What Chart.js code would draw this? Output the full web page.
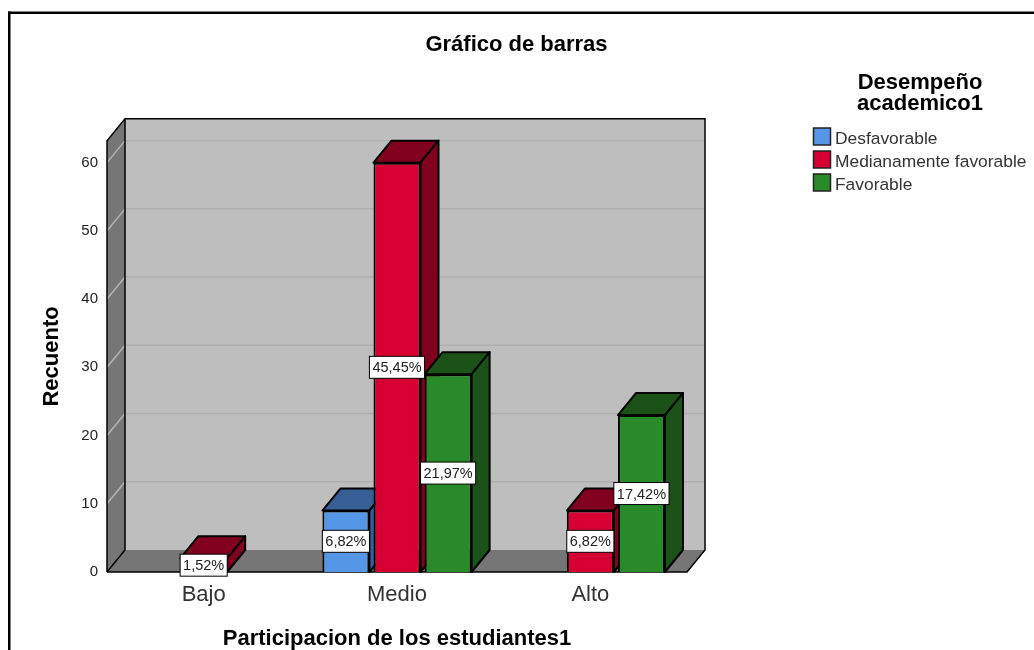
<!DOCTYPE html>
<html>
<head>
<meta charset="utf-8">
<style>
  html, body { margin: 0; padding: 0; background: #fff; }
  #wrap { width: 1034px; height: 650px; position: relative; overflow: hidden; }
</style>
<script src="https://cdn.jsdelivr.net/npm/chart.js@4"></script>
</head>
<body>
<div id="wrap"><canvas id="barChart" width="1034" height="650"></canvas></div>
<script>
const categories = ['Bajo', 'Medio', 'Alto'];
const seriesNames = ['Desfavorable', 'Medianamente favorable', 'Favorable'];
const desfavorable = [null, 9, null];
const medianamente = [2, 60, 9];
const favorable = [null, 29, 23];
const desfavorablePct = [null, '6,82%', null];
const medianamentePct = ['1,52%', '45,45%', '6,82%'];
const favorablePct = [null, '21,97%', '17,42%'];
const yTicks = [0, 10, 20, 30, 40, 50, 60];

const frontColors = ['#5596E6', '#D70032', '#288A28'];
const sideColors = ['#375F96', '#80001E', '#1A5218'];
const pctLabels = [desfavorablePct, medianamentePct, favorablePct];
const depthX = 18, depthY = 22;

function poly(ctx, pts, fill, stroke) {
  ctx.beginPath();
  pts.forEach((p, i) => i ? ctx.lineTo(p[0], p[1]) : ctx.moveTo(p[0], p[1]));
  ctx.closePath();
  if (fill) { ctx.fillStyle = fill; ctx.fill(); }
  if (stroke) { ctx.strokeStyle = stroke; ctx.lineWidth = 2; ctx.lineJoin = 'round'; ctx.stroke(); }
}

// walls, floor and the sides of the bars
const box3d = {
  id: 'box3d',
  afterLayout(chart) {
    // title is centred on the whole picture, not only the plot
    chart.titleBlock.left = 0;
    chart.titleBlock.right = 1033;
  },
  beforeDatasetsDraw(chart) {
    const ctx = chart.ctx, a = chart.chartArea, y = chart.scales.y;
    const l = a.left, r = a.right, t = a.top, b = a.bottom;
    ctx.save();
    poly(ctx, [[l + depthX, t - depthY], [r + depthX, t - depthY], [r + depthX, b - depthY], [l + depthX, b - depthY]], '#BEBEBE');
    poly(ctx, [[l, t], [l + depthX, t - depthY], [l + depthX, b - depthY], [l, b]], '#767676');
    poly(ctx, [[l, b], [l + depthX, b - depthY], [r + depthX, b - depthY], [r, b]], '#767676');

    yTicks.forEach(v => {
      if (v === 0) return;
      const py = y.getPixelForValue(v);
      ctx.strokeStyle = '#AEAEAE';
      ctx.lineWidth = 1.5;
      ctx.beginPath();
      ctx.moveTo(l + depthX, py - depthY);
      ctx.lineTo(r + depthX, py - depthY);
      ctx.stroke();
      ctx.strokeStyle = '#B4B4B4';
      ctx.beginPath();
      ctx.moveTo(l, py);
      ctx.lineTo(l + depthX, py - depthY);
      ctx.stroke();
    });

    ctx.strokeStyle = '#000';
    ctx.lineWidth = 1.5;
    ctx.beginPath();
    ctx.moveTo(l, b);
    ctx.lineTo(l, t);
    ctx.lineTo(l + depthX, t - depthY);
    ctx.lineTo(r + depthX, t - depthY);
    ctx.lineTo(r + depthX, b - depthY);
    ctx.lineTo(r, b);
    ctx.lineTo(l, b);
    ctx.moveTo(l, b);
    ctx.lineTo(l + depthX, b - depthY);
    ctx.moveTo(l + depthX, t - depthY);
    ctx.lineTo(l + depthX, b - depthY);
    ctx.stroke();

    chart.data.datasets.forEach((ds, i) => {
      chart.getDatasetMeta(i).data.forEach((bar, j) => {
        if (ds.data[j] === null) return;
        const x0 = bar.x - bar.width / 2, x1 = bar.x + bar.width / 2;
        poly(ctx, [[x0, bar.y], [x0 + depthX, bar.y - depthY], [x1 + depthX, bar.y - depthY], [x1, bar.y]], sideColors[i], '#000');
        poly(ctx, [[x1, bar.y], [x1 + depthX, bar.y - depthY], [x1 + depthX, bar.base - depthY], [x1, bar.base]], sideColors[i], '#000');
      });
    });
    ctx.restore();
  },
  // percentage boxes and the outer frame
  afterDatasetsDraw(chart) {
    const ctx = chart.ctx;
    ctx.save();
    ctx.font = '14.5px "Liberation Sans"';
    ctx.textAlign = 'center';
    ctx.textBaseline = 'middle';
    chart.data.datasets.forEach((ds, i) => {
      chart.getDatasetMeta(i).data.forEach((bar, j) => {
        const txt = pctLabels[i][j];
        if (!txt) return;
        const w = ctx.measureText(txt).width + 6, h = 22;
        const cy = (bar.y + bar.base) / 2;
        ctx.fillStyle = '#fff';
        ctx.strokeStyle = '#000';
        ctx.lineWidth = 1;
        ctx.fillRect(bar.x - w / 2, cy - h / 2, w, h);
        ctx.strokeRect(bar.x - w / 2, cy - h / 2, w, h);
        ctx.fillStyle = '#222';
        ctx.fillText(txt, bar.x, cy + 1);
      });
    });
    ctx.fillStyle = '#000';
    ctx.fillRect(8, 11.5, 1026, 2.5);
    ctx.fillRect(8, 11.5, 2.5, 639);
    ctx.restore();
  }
};

// legend block on the right with a two line heading
const sideLegend = {
  id: 'sideLegend',
  afterDraw(chart) {
    const ctx = chart.ctx;
    ctx.save();
    ctx.fillStyle = '#000';
    ctx.font = 'bold 22px "Liberation Sans"';
    ctx.textAlign = 'center';
    ctx.textBaseline = 'middle';
    ctx.fillText('Desempeño', 920, 83);
    ctx.fillText('academico1', 920, 104);
    ctx.textAlign = 'left';
    ctx.font = '17.4px "Liberation Sans"';
    seriesNames.forEach((name, i) => {
      const top = 128 + i * 23;
      ctx.fillStyle = frontColors[i];
      ctx.strokeStyle = '#222';
      ctx.lineWidth = 1.5;
      ctx.fillRect(813.5, top, 17, 17);
      ctx.strokeRect(813.5, top, 17, 17);
      ctx.fillStyle = '#333';
      ctx.fillText(name, 835, top + 11);
    });
    ctx.restore();
  }
};

new Chart(document.getElementById('barChart'), {
  type: 'bar',
  data: {
    labels: categories,
    datasets: [desfavorable, medianamente, favorable].map((values, i) => ({
      label: seriesNames[i],
      data: values,
      backgroundColor: frontColors[i],
      borderColor: '#000',
      borderWidth: 2,
      categoryPercentage: 0.793,
      barPercentage: 0.92
    }))
  },
  options: {
    responsive: false,
    animation: false,
    layout: { padding: { left: 0, right: 347, top: 0, bottom: 0 } },
    plugins: {
      legend: { display: false },
      tooltip: { enabled: false },
      title: {
        display: true,
        text: 'Gráfico de barras',
        color: '#000',
        font: { family: '"Liberation Sans"', size: 22, weight: 'bold' },
        padding: { top: 32, bottom: 82.4 }
      }
    },
    scales: {
      x: {
        grid: { display: false },
        border: { display: false },
        afterFit(s) { s.height = 78; },
        ticks: { color: '#333', padding: 1.5, font: { family: '"Liberation Sans"', size: 22 } },
        title: {
          display: true,
          text: 'Participacion de los estudiantes1',
          color: '#000',
          font: { family: '"Liberation Sans"', size: 22, weight: 'bold', lineHeight: 1.04 },
          padding: { top: 10, bottom: 0 }
        }
      },
      y: {
        min: 0,
        max: 63.2,
        afterBuildTicks(s) { s.ticks = yTicks.map(v => ({ value: v })); },
        afterFit(s) { s.width = 107; },
        grid: { display: false },
        border: { display: false },
        ticks: { color: '#222', padding: 1, font: { family: '"Liberation Sans"', size: 15 } },
        title: {
          display: true,
          text: 'Recuento',
          color: '#000',
          font: { family: '"Liberation Sans"', size: 22, weight: 'bold', lineHeight: 1 },
          padding: { top: 41, bottom: 0 }
        }
      }
    }
  },
  plugins: [box3d, sideLegend]
});
</script>
</body>
</html>
